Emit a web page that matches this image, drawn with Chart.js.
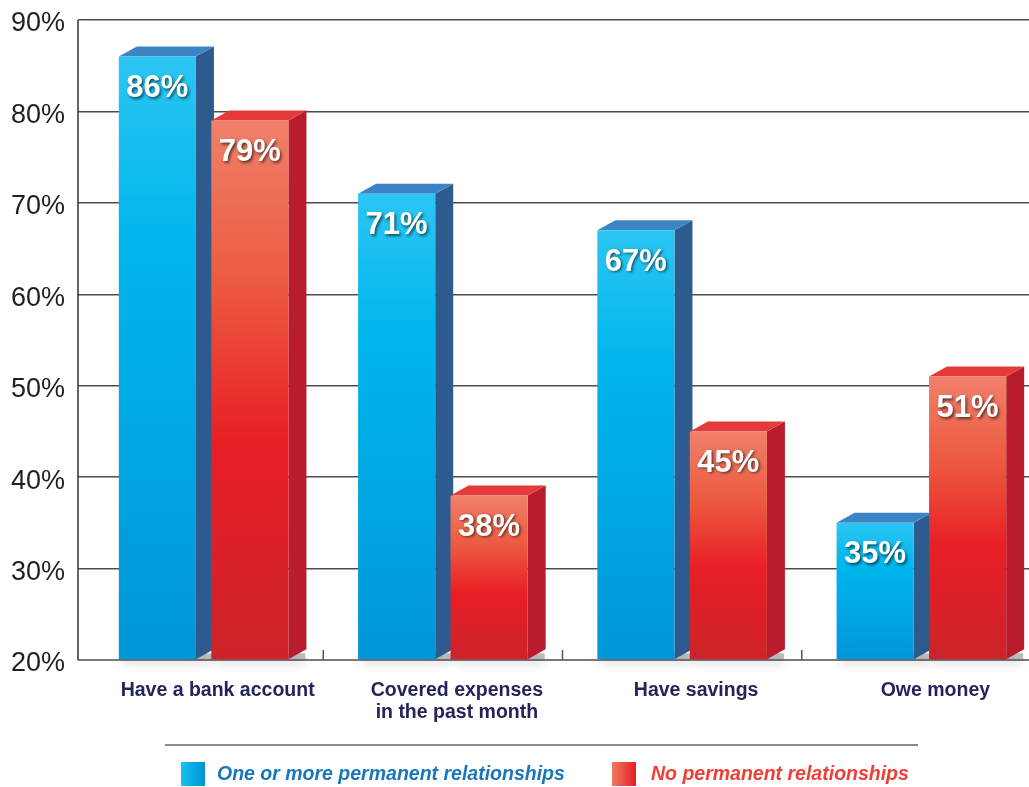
<!DOCTYPE html>
<html lang="en">
<head>
  <meta charset="UTF-8">
  <title>Relationships and finances</title>
  <script src="https://cdn.jsdelivr.net/npm/chart.js"></script>
  <style>
    body { margin: 0; background: #fff; overflow: hidden; }
    .quadro { position: relative; width: 1029px; height: 787px; overflow: hidden; }
    #grafico { position: absolute; left: 0; top: 0; }
    .linha { position: absolute; left: 165px; top: 744px; width: 753px; height: 2px; background: #8a8a8a; }
    .item { position: absolute; top: 761px; height: 25px; font: italic bold 19.5px 'Liberation Sans', Arial, sans-serif; line-height: 25px; white-space: nowrap; }
    .caixa { position: absolute; top: 762px; width: 24px; height: 24px; }
  </style>
</head>
<body>
  <div class="quadro">
    <canvas id="grafico" width="1041" height="787"></canvas>
    <div class="linha"></div>
    <div class="caixa" style="left:181px;background:linear-gradient(to right,#13c3f2,#0091d4);"></div>
    <div class="item" style="left:217px;color:#1b75bb;">One or more permanent relationships</div>
    <div class="caixa" style="left:612px;background:linear-gradient(to right,#f07a62,#e41e26);"></div>
    <div class="item" style="left:651px;color:#ef3e36;">No permanent relationships</div>
  </div>

<script>
  // dados
  const categorias = [['Have a bank account'], ['Covered expenses', 'in the past month'], ['Have savings'], ['Owe money']];
  const comRelacao = [86, 71, 67, 35];
  const semRelacao = [79, 38, 45, 51];
  const yMin = 20;
  const yMax = 90;
  const yPasso = 10;

  const DX = 18, DY = 10;
  const RECUO = 6; // eixo y desenhado um pouco antes da area das barras

  const azulStops = [[0, '#2cc6f3'], [0.3, '#00b6ed'], [1, '#0096d8']];
  const vermelhoStops = [[0, '#f0806a'], [0.3, '#ec5a40'], [0.6, '#e81e25'], [1, '#cc2229']];

  function gradienteFrente(c, stops) {
    const chart = c.chart;
    if (!chart.chartArea || c.raw == null || !chart.scales.y) return stops[1][1];
    const escala = chart.scales.y;
    const topo = escala.getPixelForValue(c.raw);
    const base = escala.getPixelForValue(yMin);
    const g = chart.ctx.createLinearGradient(0, topo, 0, base);
    stops.forEach(s => g.addColorStop(s[0], s[1]));
    return g;
  }

  const barras3d = {
    id: 'barras3d',
    beforeDatasetsDraw(chart) {
      const ctx = chart.ctx;
      const area = chart.chartArea;
      // linhas dos eixos
      ctx.save();
      ctx.strokeStyle = '#7a7a7a';
      ctx.lineWidth = 2;
      ctx.beginPath();
      ctx.moveTo(area.left - RECUO, area.bottom);
      ctx.lineTo(area.right, area.bottom);
      ctx.stroke();
      ctx.strokeStyle = '#333';
      ctx.lineWidth = 1.5;
      ctx.beginPath();
      ctx.moveTo(area.left - RECUO, area.top);
      ctx.lineTo(area.left - RECUO, area.bottom);
      ctx.stroke();
      ctx.restore();

      chart.data.datasets.forEach((ds, di) => {
        chart.getDatasetMeta(di).data.forEach(bar => {
          const { x, y, base, width } = bar.getProps(['x', 'y', 'base', 'width'], true);
          const esq = x - width / 2, dir = x + width / 2;
          ctx.save();
          // sombra
          ctx.fillStyle = 'rgba(0,0,0,0.25)';
          ctx.shadowColor = 'rgba(0,0,0,0.55)';
          ctx.shadowBlur = 9;
          ctx.shadowOffsetY = 5;
          ctx.fillRect(esq + 3, base - 6, width + DX - 4, 6);
          ctx.restore();

          ctx.save();
          ctx.fillStyle = ds.corLado;
          ctx.beginPath();
          ctx.moveTo(dir, y);
          ctx.lineTo(dir + DX, y - DY);
          ctx.lineTo(dir + DX, base - DY);
          ctx.lineTo(dir, base);
          ctx.closePath();
          ctx.fill();

          ctx.fillStyle = ds.corTopo;
          ctx.beginPath();
          ctx.moveTo(esq, y);
          ctx.lineTo(esq + DX, y - DY);
          ctx.lineTo(dir + DX, y - DY);
          ctx.lineTo(dir, y);
          ctx.closePath();
          ctx.fill();
          ctx.restore();
        });
      });
    },
    afterDatasetsDraw(chart) {
      const ctx = chart.ctx;
      // tracinhos entre categorias
      const xs = chart.scales.x;
      const fundo = chart.chartArea.bottom;
      ctx.save();
      ctx.strokeStyle = '#555';
      ctx.lineWidth = 1.5;
      for (let i = 0; i < categorias.length - 1; i++) {
        const bx = (xs.getPixelForTick(i) + xs.getPixelForTick(i + 1)) / 2;
        ctx.beginPath();
        ctx.moveTo(bx, fundo);
        ctx.lineTo(bx, fundo - 10);
        ctx.stroke();
      }
      ctx.restore();

      // rotulos nas barras
      chart.data.datasets.forEach((ds, di) => {
        chart.getDatasetMeta(di).data.forEach((bar, i) => {
          const { x, y } = bar.getProps(['x', 'y'], true);
          ctx.save();
          ctx.font = 'bold 31px "Liberation Sans", Arial, sans-serif';
          ctx.fillStyle = '#fff';
          ctx.textAlign = 'center';
          ctx.textBaseline = 'middle';
          ctx.shadowColor = 'rgba(0,0,0,0.6)';
          ctx.shadowBlur = 3;
          ctx.shadowOffsetX = 1.5;
          ctx.shadowOffsetY = 1.5;
          ctx.fillText(ds.data[i] + '%', x, y + 32);
          ctx.restore();
        });
      });
    }
  };

  const dados = {
    labels: categorias,
    datasets: [
      {
        label: 'One or more permanent relationships',
        data: comRelacao,
        base: yMin,
        backgroundColor: c => gradienteFrente(c, azulStops),
        corLado: '#2d5b8e',
        corTopo: '#3d84c6',
        borderWidth: 0
      },
      {
        label: 'No permanent relationships',
        data: semRelacao,
        base: yMin,
        backgroundColor: c => gradienteFrente(c, vermelhoStops),
        corLado: '#b91d2d',
        corTopo: '#e53a3a',
        borderWidth: 0
      }
    ]
  };

  const config = {
    type: 'bar',
    data: dados,
    options: {
      responsive: false,
      animation: false,
      categoryPercentage: 0.773,
      barPercentage: 0.834,
      layout: { padding: { top: 20, left: 0, right: 0, bottom: 0 } },
      plugins: {
        legend: { display: false },
        tooltip: { enabled: false }
      },
      scales: {
        x: {
          grid: { display: false, drawTicks: false },
          border: { display: false },
          ticks: {
            color: '#25235b',
            font: { family: '"Liberation Sans", Arial, sans-serif', size: 19.5, weight: 'bold', lineHeight: 1.1 },
            padding: 20,
            labelOffset: 14,
            maxRotation: 0,
            autoSkip: false
          },
          afterFit(scale) { scale.height = 127; }
        },
        y: {
          min: yMin,
          max: yMax,
          grid: { color: '#4d4d4d', lineWidth: 1.5, drawTicks: true, tickLength: RECUO },
          border: { display: false },
          ticks: {
            stepSize: yPasso,
            color: '#231f20',
            font: { family: '"Liberation Sans", Arial, sans-serif', size: 27 },
            padding: 13,
            labelOffset: 4,
            callback: v => v + '%'
          },
          afterFit(scale) {
            scale.width = 78 + RECUO;
            scale.paddingTop = 0;
            scale.paddingBottom = 0;
          }
        }
      }
    },
    plugins: [barras3d]
  };

  let grafico = new Chart(document.getElementById('grafico'), config);
</script>
</body>
</html>
